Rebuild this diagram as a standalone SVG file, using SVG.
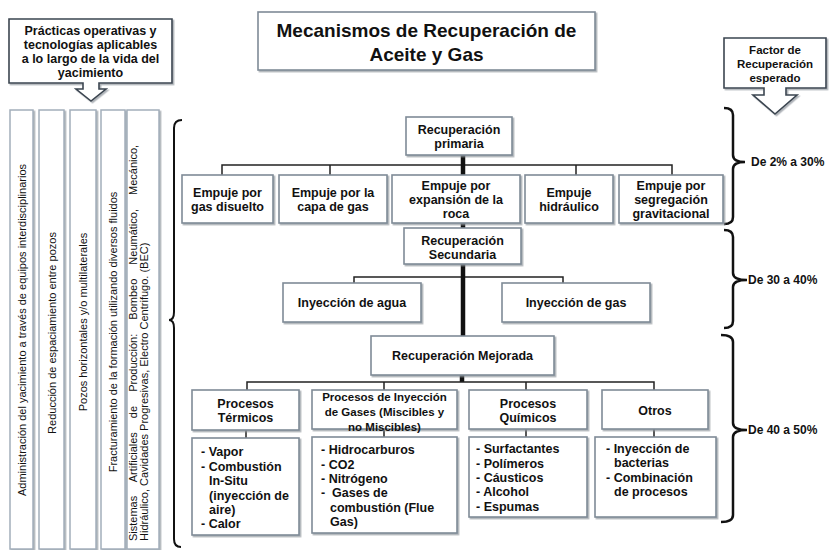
<svg xmlns="http://www.w3.org/2000/svg" width="830" height="550" viewBox="0 0 830 550">
<defs>
<filter id="ds" x="-10%" y="-10%" width="130%" height="130%"><feDropShadow dx="1.5" dy="1.5" stdDeviation="0.7" flood-color="#8c939a" flood-opacity="0.7"/></filter>
</defs>
<style>
text{font-family:"Liberation Sans",Arial,sans-serif;fill:#111;}
.b{font-weight:bold;font-size:12.5px;text-anchor:middle}
.l{font-weight:bold;font-size:12.5px}
.box{fill:#fff;stroke:#7f8b97;stroke-width:1.6;filter:url(#ds)}
.strip{fill:#fff;stroke:#a3aebb;stroke-width:1.5;filter:url(#ds)}
.call{fill:#fff;stroke:#3b4550;stroke-width:1.6;filter:url(#ds)}
.c{stroke:#222;stroke-width:1.5;fill:none}
.t{stroke:#111;stroke-width:4.5;fill:none}
.br{stroke:#111;stroke-width:2.5;fill:none}
.s{font-size:11px;text-anchor:middle}
</style>
<rect width="830" height="550" fill="#fff"/>

<g id="callout-practicas">
<path class="call" d="M9,19 H172 V83 H99 V89 H106 L91,101 L76,89 H83 V83 H9 Z"/>
<text class="b" x="90.5" y="35">Prácticas operativas y</text>
<text class="b" x="90.5" y="49">tecnologías aplicables</text>
<text class="b" x="90.5" y="63">a lo largo de la vida del</text>
<text class="b" x="90.5" y="77">yacimiento</text>
</g>

<g id="title">
<rect class="box" x="258" y="12" width="337" height="58"/>
<text class="b" style="font-size:19px" x="426.5" y="37">Mecanismos de Recuperación de</text>
<text class="b" style="font-size:19px" x="426.5" y="61">Aceite y Gas</text>
</g>

<g id="callout-factor">
<path class="call" d="M724,38 H826 V88 H786 V95 H797 L775,114 L753,95 H764 V88 H724 Z"/>
<text class="b" style="font-size:11.5px" x="775" y="54">Factor de</text>
<text class="b" style="font-size:11.5px" x="775" y="68">Recuperación</text>
<text class="b" style="font-size:11.5px" x="775" y="82">esperado</text>
</g>

<g id="strip-1">
<rect class="strip" x="10" y="110" width="23" height="439"/>
<text class="s" transform="translate(26,330) rotate(-90)">Administración del yacimiento a través de equipos interdisciplinarios</text>
</g>
<g id="strip-2">
<rect class="strip" x="39" y="110" width="25" height="439"/>
<text class="s" transform="translate(55.5,333) rotate(-90)">Reducción de espaciamiento entre pozos</text>
</g>
<g id="strip-3">
<rect class="strip" x="70" y="110" width="26" height="439"/>
<text class="s" transform="translate(87,322) rotate(-90)">Pozos horizontales y/o multilaterales</text>
</g>
<g id="strip-4">
<rect class="strip" x="101" y="110" width="24" height="439"/>
<text class="s" transform="translate(117,332) rotate(-90)">Fracturamiento de la formación utilizando diversos fluidos</text>
</g>
<g id="strip-5">
<rect class="strip" x="127" y="110" width="32" height="439"/>
<text style="font-size:11px;word-spacing:11px" transform="translate(137,541) rotate(-90)">Sistemas Artificiales de Producción: Bombeo Neumático, Mecánico,</text>
<text style="font-size:11px" transform="translate(148,541) rotate(-90)">Hidráulico, Cavidades Progresivas, Electro Centrifugo. (BEC)</text>
</g>

<g id="braces">
<path class="br" style="stroke-width:2" d="M182,120 Q174,120 174,128 V312 Q174,320 169,320 Q174,320 174,328 V539 Q174,547 181,547"/>
<path class="br" d="M724,108 Q733,108 733,115 V155 Q733,162 745,162 Q733,162 733,169 V217 Q733,224 724,224"/>
<path class="br" d="M724,230 Q733,230 733,237 V273 Q733,280 747,280 Q733,280 733,287 V321 Q733,328 724,328"/>
<path class="br" d="M721,335 Q733,335 733,342 V423 Q733,430 747,430 Q733,430 733,437 V515 Q733,522 721,522"/>
<text class="l" style="font-size:12px" x="751" y="166">De 2% a 30%</text>
<text class="l" style="font-size:12px" x="748" y="284">De 30 a 40%</text>
<text class="l" style="font-size:12px" x="748" y="434">De 40 a 50%</text>
</g>

<g id="connectors">
<path class="c" d="M222,175 V165 H672 V175 M330,165 V175 M576,165 V175"/>
<path class="t" d="M463,155 V175 M463,223 V228"/>
<path class="c" d="M354,283 V277 H563 V283"/>
<path class="t" d="M463,264 V336"/>
<path class="t" d="M462,375 V382"/>
<path class="c" d="M247,390 V382 H654 V390 M384,382 V390 M526,382 V390"/>
<path class="c" d="M246,430 V438 M384,429 V437 M526,429 V437 M654,429 V437"/>
</g>

<g id="primaria">
<rect class="box" x="406" y="117" width="106" height="38"/>
<text class="b" x="459" y="134">Recuperación</text>
<text class="b" x="459" y="148">primaria</text>
</g>
<g id="gas-disuelto">
<rect class="box" x="182" y="175" width="91" height="48"/>
<text class="b" x="227.5" y="197">Empuje por</text>
<text class="b" x="227.5" y="211">gas disuelto</text>
</g>
<g id="capa-gas">
<rect class="box" x="279" y="175" width="108" height="48"/>
<text class="b" x="333" y="197">Empuje por la</text>
<text class="b" x="333" y="211">capa de gas</text>
</g>
<g id="expansion-roca">
<rect class="box" x="392" y="175" width="128" height="48"/>
<text class="b" x="456" y="190">Empuje por</text>
<text class="b" x="456" y="204">expansión de la</text>
<text class="b" x="456" y="218">roca</text>
</g>
<g id="hidraulico">
<rect class="box" x="525" y="175" width="88" height="48"/>
<text class="b" x="569" y="197">Empuje</text>
<text class="b" x="569" y="211">hidráulico</text>
</g>
<g id="segregacion">
<rect class="box" x="619" y="175" width="104" height="48"/>
<text class="b" x="671" y="190">Empuje por</text>
<text class="b" x="671" y="204">segregación</text>
<text class="b" x="671" y="218">gravitacional</text>
</g>

<g id="secundaria">
<rect class="box" x="404" y="228" width="117" height="36"/>
<text class="b" x="462.5" y="245">Recuperación</text>
<text class="b" x="462.5" y="259">Secundaria</text>
</g>
<g id="iny-agua">
<rect class="box" x="283" y="283" width="138" height="39"/>
<text class="b" x="352" y="307">Inyección de agua</text>
</g>
<g id="iny-gas">
<rect class="box" x="502" y="283" width="148" height="39"/>
<text class="b" x="576" y="307">Inyección de gas</text>
</g>

<g id="mejorada">
<rect class="box" x="371" y="336" width="183" height="39"/>
<text class="b" x="462.5" y="360">Recuperación Mejorada</text>
</g>

<g id="termicos">
<rect class="box" x="192" y="390" width="107" height="40"/>
<text class="b" x="245.5" y="408">Procesos</text>
<text class="b" x="245.5" y="422">Térmicos</text>
</g>
<g id="gases">
<rect class="box" x="312" y="390" width="145" height="39"/>
<text class="b" style="font-size:11.5px" x="384.5" y="401">Procesos de Inyección</text>
<text class="b" style="font-size:11.5px" x="384.5" y="416">de Gases (Miscibles y</text>
<text class="b" style="font-size:11.5px" x="384.5" y="431">no Miscibles)</text>
</g>
<g id="quimicos">
<rect class="box" x="469" y="390" width="118" height="39"/>
<text class="b" x="528" y="408">Procesos</text>
<text class="b" x="528" y="422">Químicos</text>
</g>
<g id="otros">
<rect class="box" x="602" y="390" width="106" height="39"/>
<text class="b" x="655" y="415">Otros</text>
</g>

<g id="lista-termicos">
<rect class="box" x="192" y="438" width="107" height="97"/>
<text class="l" x="201" y="456">- Vapor</text>
<text class="l" x="201" y="471">- Combustión</text>
<text class="l" x="209" y="485">In-Situ</text>
<text class="l" x="209" y="500">(inyección de</text>
<text class="l" x="209" y="514">aire)</text>
<text class="l" x="201" y="528">- Calor</text>
</g>
<g id="lista-gases">
<rect class="box" x="312" y="437" width="145" height="96"/>
<text class="l" x="321" y="454">- Hidrocarburos</text>
<text class="l" x="321" y="469">- CO2</text>
<text class="l" x="321" y="483">- Nitrógeno</text>
<text class="l" x="321" y="497" xml:space="preserve">-  Gases de</text>
<text class="l" x="330" y="512">combustión (Flue</text>
<text class="l" x="330" y="526">Gas)</text>
</g>
<g id="lista-quimicos">
<rect class="box" x="469" y="437" width="118" height="80"/>
<text class="l" x="476" y="453">- Surfactantes</text>
<text class="l" x="476" y="468">- Polímeros</text>
<text class="l" x="476" y="482">- Cáusticos</text>
<text class="l" x="476" y="496">- Alcohol</text>
<text class="l" x="476" y="511">- Espumas</text>
</g>
<g id="lista-otros">
<rect class="box" x="595" y="437" width="121" height="80"/>
<text class="l" x="606" y="453">- Inyección de</text>
<text class="l" x="614" y="467">bacterias</text>
<text class="l" x="606" y="482">- Combinación</text>
<text class="l" x="614" y="496">de procesos</text>
</g>
</svg>
